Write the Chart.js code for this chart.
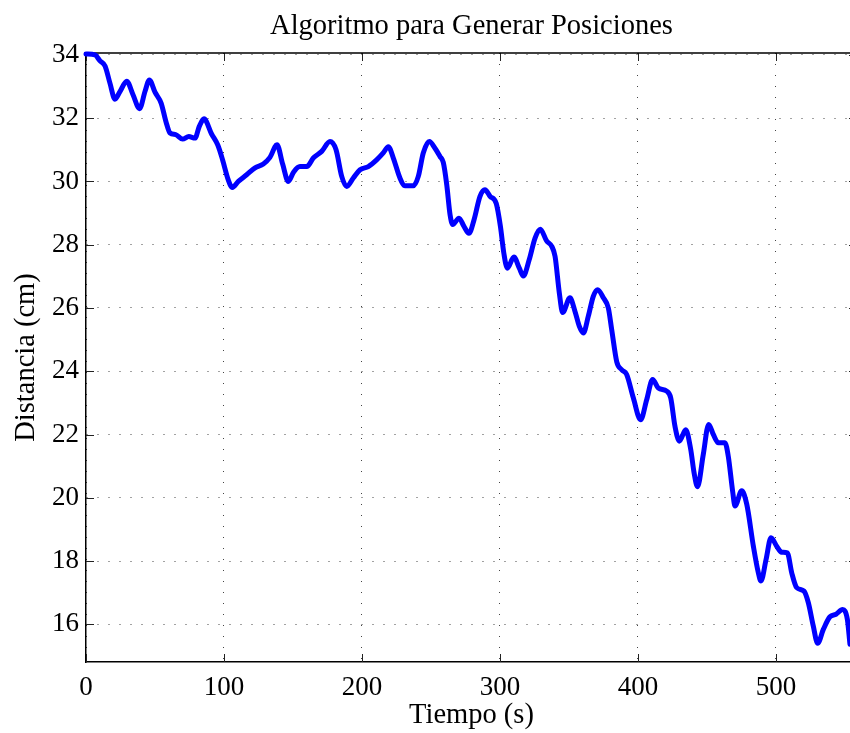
<!DOCTYPE html>
<html>
<head>
<meta charset="utf-8">
<script src="https://cdn.jsdelivr.net/npm/chart.js@4/dist/chart.umd.min.js"></script>
<style>
  html, body { margin: 0; padding: 0; background: #fff; overflow: hidden; }
  #wrap { width: 858px; height: 733px; }
</style>
</head>
<body>
<div id="wrap"><canvas id="c" width="858" height="733"></canvas></div>
<script>
// Tiempo (s)
const tiempo = [0, 6.5, 10, 13.8, 17.4, 21, 24.6, 29.5, 34, 38.8, 42.8, 45.9, 50, 54.5, 58, 60.9, 65, 70, 74.5, 79,
  82.1, 85.5, 91, 95.5, 99, 103.1, 106, 110.4, 116.4, 122.5, 128.5, 133.3, 138.4, 142.5, 146.6, 150.5, 155, 160,
  164.7, 170.8, 176.8, 181.2, 185.3, 188.9, 193.7, 198.6, 204.6, 210.6, 215.4, 219.1, 222.7, 227.5, 231.2, 237.2,
  240.8, 244.4, 248.8, 252.9, 256.5, 258.9, 261.4, 263.8, 265.7, 270.3, 273.9, 277.5, 281.2, 285.5, 289.1, 292.8,
  297.3, 300.3, 302.9, 305.3, 310.1, 314, 316.9, 321.2, 325.4, 329.2, 333.8, 337.5, 339.9, 343, 345.4, 350.7,
  354.3, 357.5, 360.4, 364, 367.6, 370.8, 374.9, 378.5, 381, 384.6, 388.2, 391.8, 396.6, 401.9, 406.3, 410.6,
  414.7, 420.8, 423.7, 426.8, 430, 434.6, 438.2, 440.6, 443.1, 447.3, 451.2, 454.6, 458.2, 463, 465.4, 468.6,
  470.3, 475.1, 478.8, 483.6, 487.2, 489.1, 492.8, 496.4, 500.5, 504.1, 508.2, 511.4, 515, 520.3, 523.4, 527,
  530.2, 534.3, 539.1, 543.5, 548.3, 551.7, 553.6];

// Distancia (cm)
const distancia = [34.03, 34.0, 33.82, 33.65, 33.1, 32.6, 32.84, 33.17, 32.75, 32.3, 32.85, 33.21, 32.82, 32.47, 31.88, 31.53, 31.48, 31.34, 31.42, 31.37,
  31.74, 31.98, 31.5, 31.15, 30.68, 30.05, 29.81, 30.0, 30.21, 30.43, 30.55, 30.76, 31.16, 30.55, 30.0, 30.3, 30.47, 30.47,
  30.74, 30.95, 31.26, 31.0, 30.16, 29.84, 30.11, 30.37, 30.47, 30.68, 30.9, 31.1, 30.74, 30.11, 29.86, 29.86,
  30.16, 30.9, 31.26, 31.05, 30.79, 30.6, 29.9, 28.95, 28.64, 28.84, 28.58, 28.36, 28.79, 29.53, 29.74, 29.53,
  29.3, 28.58, 27.7, 27.26, 27.61, 27.26, 27.01, 27.53, 28.21, 28.49, 28.12, 27.95, 27.63, 26.47, 25.86, 26.32,
  25.9, 25.42, 25.21, 25.74, 26.37, 26.58, 26.32, 26.0, 25.3, 24.3, 24.05, 23.9, 23.16, 22.47, 23.1, 23.74,
  23.47, 23.37, 23.16, 22.26, 21.79, 22.15, 21.53, 20.8, 20.35, 21.37, 22.32, 22.0, 21.74, 21.74, 21.32, 20.2,
  19.74, 20.22, 19.8, 18.47, 17.63, 17.37, 18.05, 18.74, 18.47, 18.28, 18.26, 17.63, 17.16, 17.05, 16.69, 15.95,
  15.4, 15.84, 16.24, 16.32, 16.47, 16.16, 15.37];

const xTicks = [0, 100, 200, 300, 400, 500];
const yTicks = [16, 18, 20, 22, 24, 26, 28, 30, 32, 34];

const serif = "'Liberation Serif', 'Times New Roman', serif";

// Inward tick marks and the top/right edges of the axes box
const axesBox = {
  id: 'axesBox',
  beforeDatasetsDraw(chart) {
    const { ctx, chartArea: a, scales: { x, y } } = chart;
    const len = 8;
    ctx.save();
    ctx.strokeStyle = '#222';
    ctx.lineWidth = 1;
    ctx.beginPath();
    xTicks.forEach(v => {
      const px = Math.round(x.getPixelForValue(v)) + 0.5;
      ctx.moveTo(px, a.bottom); ctx.lineTo(px, a.bottom - len);
      ctx.moveTo(px, a.top); ctx.lineTo(px, a.top + len);
    });
    yTicks.forEach(v => {
      const py = Math.round(y.getPixelForValue(v)) + 0.5;
      ctx.moveTo(a.left, py); ctx.lineTo(a.left + len, py);
      ctx.moveTo(a.right, py); ctx.lineTo(a.right - len, py);
    });
    ctx.stroke();
    ctx.strokeStyle = '#000';
    ctx.lineWidth = 1.5;
    ctx.beginPath();
    ctx.moveTo(a.left, a.top); ctx.lineTo(a.right, a.top);
    ctx.lineTo(a.right, a.bottom);
    ctx.stroke();
    ctx.restore();
  }
};

new Chart(document.getElementById('c'), {
  type: 'line',
  data: {
    datasets: [{
      data: tiempo.map((t, i) => ({ x: t, y: distancia[i] })),
      borderColor: '#0000ff',
      borderWidth: 5,
      pointRadius: 0,
      cubicInterpolationMode: 'monotone',
      borderCapStyle: 'round',
      borderJoinStyle: 'round',
      fill: false,
      clip: false
    }]
  },
  options: {
    responsive: false,
    animation: false,
    devicePixelRatio: 1,
    layout: { padding: { left: 0, right: 1, top: 0, bottom: 0 } },
    plugins: {
      legend: { display: false },
      tooltip: { enabled: false },
      title: {
        display: true,
        fullSize: false,
        text: 'Algoritmo para Generar Posiciones',
        color: '#000',
        font: { family: serif, size: 28.5, weight: 'normal' },
        padding: { top: 9, bottom: 9.8 }
      }
    },
    scales: {
      x: {
        type: 'linear',
        min: 0,
        max: 558.7,
        afterBuildTicks: s => { s.ticks = xTicks.map(v => ({ value: v })); },
        afterFit: s => { s.height = 71; },
        ticks: {
          color: '#000',
          font: { family: serif, size: 27 },
          padding: 10,
          maxRotation: 0,
          callback: v => String(v)
        },
        grid: { color: '#444', lineWidth: 1, drawTicks: false },
        border: { display: true, color: '#000', width: 1.5, dash: [1, 10] },
        title: {
          display: true,
          text: 'Tiempo (s)',
          color: '#000',
          font: { family: serif, size: 28.5 },
          padding: { top: 0, bottom: 0 }
        }
      },
      y: {
        type: 'linear',
        min: 14.81,
        max: 34.06,
        afterBuildTicks: s => { s.ticks = yTicks.map(v => ({ value: v })); },
        afterFit: s => { s.width = 86; },
        ticks: {
          color: '#000',
          font: { family: serif, size: 27 },
          padding: 7,
          callback: v => String(v)
        },
        grid: { color: '#444', lineWidth: 1, drawTicks: false },
        border: { display: true, color: '#000', width: 1.5, dash: [1, 10] },
        title: {
          display: true,
          text: 'Distancia (cm)',
          color: '#000',
          font: { family: serif, size: 28.5 },
          padding: { top: 9, bottom: 0 }
        }
      }
    }
  },
  plugins: [axesBox]
});
</script>
</body>
</html>
